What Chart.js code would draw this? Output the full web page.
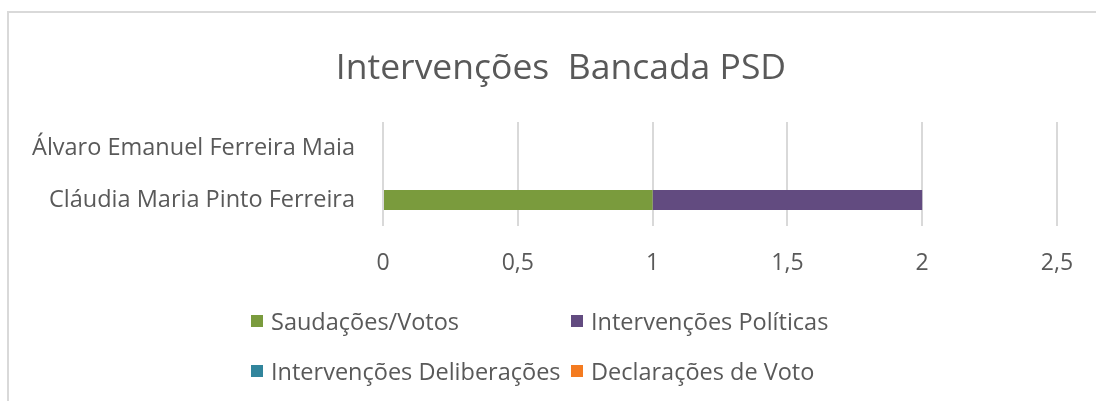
<!DOCTYPE html>
<html>
<head>
<meta charset="utf-8">
<script src="https://cdn.jsdelivr.net/npm/chart.js@4/dist/chart.umd.min.js"></script>
<style>
  html, body { margin: 0; padding: 0; background: #fff; overflow: hidden; }
  body { width: 1096px; height: 401px; position: relative; font-family: "Open Sans", sans-serif; }
  #frame {
    position: absolute; left: 7px; top: 11px; width: 1100px; height: 400px;
    border-left: 2px solid #d9d9d9; border-top: 2px solid #d9d9d9;
  }
  #chartBox { position: absolute; left: 8px; top: 12px; width: 1097px; height: 400px; }
  #title {
    position: absolute; left: 261px; top: 44px; width: 600px; text-align: center;
    font-size: 35.5px; line-height: 43px; color: #595959; white-space: pre;
  }
  #legend {
    position: absolute; left: 251px; top: 307px;
    display: grid; grid-template-columns: 320px auto; row-gap: 22px;
    font-size: 23.5px; color: #595959; line-height: 28px;
  }
  .item { display: flex; align-items: center; white-space: nowrap; }
  .swatch { width: 12px; height: 12px; margin-right: 8px; }
</style>
</head>
<body>
<div id="frame"></div>
<div id="chartBox"><canvas id="myChart"></canvas></div>
<div id="title"></div>
<div id="legend"></div>
<script>
// chart data
const chartTitle = 'Intervenções  Bancada PSD';
const deputados = ['Álvaro Emanuel Ferreira Maia', 'Cláudia Maria Pinto Ferreira'];
const saudacoesVotos = [0, 1];
const intervencoesPoliticas = [0, 1];
const intervencoesDeliberacoes = [0, 0];
const declaracoesVoto = [0, 0];
const seriesNames = ['Saudações/Votos', 'Intervenções Políticas', 'Intervenções Deliberações', 'Declarações de Voto'];
const seriesColors = ['#7a9b3d', '#624b80', '#31859c', '#f47b20'];
const xTicks = [0, 0.5, 1, 1.5, 2, 2.5];

const textColor = '#595959';
const seriesValues = [saudacoesVotos, intervencoesPoliticas, intervencoesDeliberacoes, declaracoesVoto];

const datasets = seriesNames.map((name, i) => ({
  label: name,
  data: seriesValues[i],
  backgroundColor: seriesColors[i],
  borderWidth: 0,
  inflateAmount: 0,
  barThickness: 20
}));

const ctx = document.getElementById('myChart').getContext('2d');
const chart = new Chart(ctx, {
  type: 'bar',
  data: { labels: deputados, datasets: datasets },
  options: {
    indexAxis: 'y',
    responsive: true,
    maintainAspectRatio: false,
    animation: false,
    layout: { padding: { left: 0, right: 48, top: 110, bottom: 0 } },
    plugins: {
      legend: { display: false },
      tooltip: { enabled: false },
      title: { display: false }
    },
    scales: {
      x: {
        stacked: true,
        min: 0,
        max: 2.5,
        afterBuildTicks: (scale) => { scale.ticks = xTicks.map(v => ({ value: v })); },
        afterFit: (scale) => { scale.height = 186; },
        border: { display: false },
        grid: { color: '#d9d9d9', lineWidth: 2, drawTicks: false },
        ticks: {
          color: textColor,
          padding: 24,
          font: { family: 'Open Sans', size: 23 },
          callback: (v) => String(v).replace('.', ',')
        }
      },
      y: {
        stacked: true,
        afterFit: (scale) => { scale.width = 375; },
        border: { display: false },
        grid: { display: false, drawTicks: false },
        ticks: {
          color: textColor,
          padding: 28,
          font: { family: 'Open Sans', size: 23.5 }
        }
      }
    }
  }
});

// title (centred over the original chart box, not the canvas)
document.getElementById('title').textContent = chartTitle;

// legend in two columns like the original
const legendBox = document.getElementById('legend');
seriesNames.forEach((name, i) => {
  const item = document.createElement('div');
  item.className = 'item';
  const sw = document.createElement('span');
  sw.className = 'swatch';
  sw.style.background = seriesColors[i];
  const label = document.createElement('span');
  label.textContent = name;
  item.appendChild(sw);
  item.appendChild(label);
  legendBox.appendChild(item);
});
</script>
</body>
</html>
